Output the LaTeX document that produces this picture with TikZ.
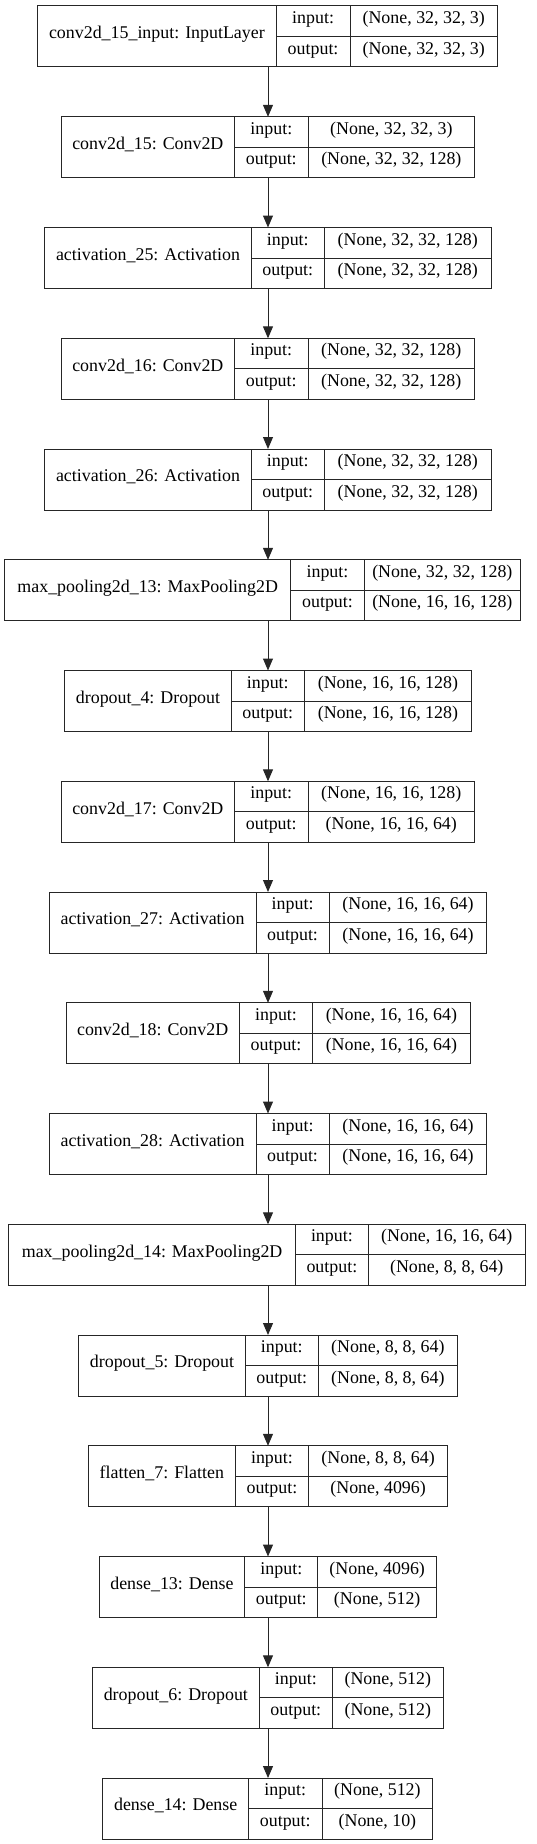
\documentclass[tikz,border=0pt]{standalone}
\usepackage{fontspec}
\setmainfont{Liberation Serif}
\usetikzlibrary{arrows.meta}
\tikzset{
  lbox/.style={draw=black!85, line width=1pt, inner sep=0pt, outer sep=0pt},
  sep/.style={draw=black!85, line width=1pt},
  txt/.style={font=\fontsize{17.9}{20}\selectfont, inner sep=0pt, anchor=center, text height=0.68em, text depth=0.2em},
  conn/.style={draw=black!85, line width=1pt, -{Triangle[length=12pt,width=10pt]}}
}
\def\kerh{61}
% id, top, L, d1, d2, R, label, input, output
\newcommand\kerlayer[9]{%
  \node[lbox, anchor=north west, minimum width={(#6-#3)*1pt}, minimum height=\kerh pt] (#1) at (#3,#2) {};
  \draw[sep] (#4,#2) -- (#4,{#2+\kerh});
  \draw[sep] (#5,#2) -- (#5,{#2+\kerh});
  \draw[sep] (#4,{#2+\kerh/2}) -- (#6,{#2+\kerh/2});
  \node[txt] (#1-lab) at ({(#3+#4)/2},{#2+\kerh/2}) {#7};
  \node[txt] (#1-ik) at ({(#4+#5)/2},{#2+\kerh/4}) {input:};
  \node[txt] (#1-ok) at ({(#4+#5)/2},{#2+3*\kerh/4}) {output:};
  \node[txt] (#1-iv) at ({(#5+#6)/2},{#2+\kerh/4}) {#8};
  \node[txt] (#1-ov) at ({(#5+#6)/2},{#2+3*\kerh/4}) {#9};
}
\begin{document}
\begin{tikzpicture}[x=1pt,y=-1pt]
\useasboundingbox (0,0) rectangle (536,1844);
\coordinate (ax) at (268,0);
\kerlayer{b0}{6}{37.6}{276.2}{350.0}{497.5}{conv2d\_15\_input: InputLayer}{(None, 32, 32, 3)}{(None, 32, 32, 3)}
\kerlayer{b1}{116.8}{61.2}{234.5}{308.2}{474.5}{conv2d\_15: Conv2D}{(None, 32, 32, 3)}{(None, 32, 32, 128)}
\kerlayer{b2}{227.5}{44.8}{251.2}{324.4}{491.2}{activation\_25: Activation}{(None, 32, 32, 128)}{(None, 32, 32, 128)}
\kerlayer{b3}{338.3}{61.2}{234.5}{308.0}{474.5}{conv2d\_16: Conv2D}{(None, 32, 32, 128)}{(None, 32, 32, 128)}
\kerlayer{b4}{449}{44.8}{251.2}{324.4}{491.2}{activation\_26: Activation}{(None, 32, 32, 128)}{(None, 32, 32, 128)}
\kerlayer{b5}{559.8}{4.8}{290.6}{364.4}{520.3}{max\_pooling2d\_13: MaxPooling2D}{(None, 32, 32, 128)}{(None, 16, 16, 128)}
\kerlayer{b6}{670.5}{64.6}{231.4}{304.2}{471.7}{dropout\_4: Dropout}{(None, 16, 16, 128)}{(None, 16, 16, 128)}
\kerlayer{b7}{781.3}{61.2}{234.5}{308.0}{474.5}{conv2d\_17: Conv2D}{(None, 16, 16, 128)}{(None, 16, 16, 64)}
\kerlayer{b8}{892}{49.2}{256.0}{329.2}{486.8}{activation\_27: Activation}{(None, 16, 16, 64)}{(None, 16, 16, 64)}
\kerlayer{b9}{1002.8}{66.0}{239.3}{312.8}{470.0}{conv2d\_18: Conv2D}{(None, 16, 16, 64)}{(None, 16, 16, 64)}
\kerlayer{b10}{1113.5}{49.2}{256.0}{329.2}{486.8}{activation\_28: Activation}{(None, 16, 16, 64)}{(None, 16, 16, 64)}
\kerlayer{b11}{1224.3}{8.9}{295.3}{368.5}{525.0}{max\_pooling2d\_14: MaxPooling2D}{(None, 16, 16, 64)}{(None, 8, 8, 64)}
\kerlayer{b12}{1335}{78.6}{245.4}{318.2}{457.4}{dropout\_5: Dropout}{(None, 8, 8, 64)}{(None, 8, 8, 64)}
\kerlayer{b13}{1445.8}{88.5}{235.2}{308.7}{447.5}{flatten\_7: Flatten}{(None, 8, 8, 64)}{(None, 4096)}
\kerlayer{b14}{1556.5}{99.1}{244.8}{317.9}{436.5}{dense\_13: Dense}{(None, 4096)}{(None, 512)}
\kerlayer{b15}{1667.3}{92.3}{259.4}{332.3}{443.4}{dropout\_6: Dropout}{(None, 512)}{(None, 512)}
\kerlayer{b16}{1778}{102.9}{248.5}{322.0}{432.8}{dense\_14: Dense}{(None, 512)}{(None, 10)}
\foreach \a/\b in {b0/b1,b1/b2,b2/b3,b3/b4,b4/b5,b5/b6,b6/b7,b7/b8,b8/b9,b9/b10,b10/b11,b11/b12,b12/b13,b13/b14,b14/b15,b15/b16}
  \draw[conn] (\a.south -| ax) -- (\b.north -| ax);
\end{tikzpicture}
\end{document}
